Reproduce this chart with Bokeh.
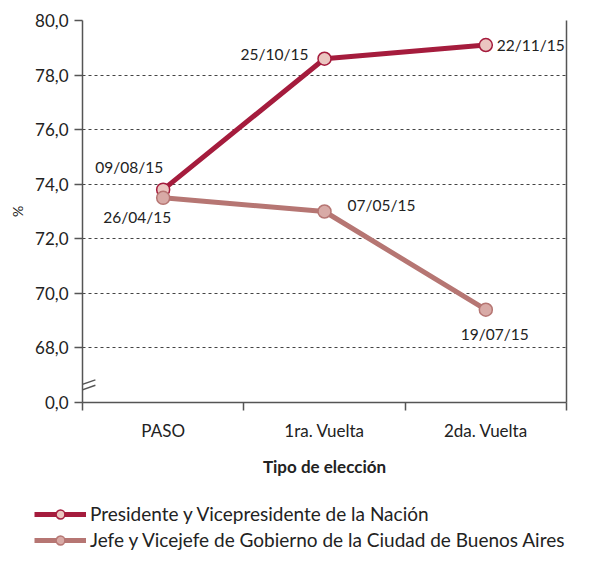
from bokeh.plotting import figure
from bokeh.models import (FixedTicker, Range1d, ColumnDataSource, Legend, LegendItem,
                          LinearAxis, Arrow)
from bokeh.layouts import column
from bokeh.core.properties import value
from bokeh.embed import file_html
from bokeh.resources import INLINE

# ---- data ----
categories = ["PASO", "1ra. Vuelta", "2da. Vuelta"]
presidente = [73.8, 78.6, 79.1]
presidente_dates = ["09/08/15", "25/10/15", "22/11/15"]
jefe = [73.5, 73.0, 69.4]
jefe_dates = ["26/04/15", "07/05/15", "19/07/15"]
y_ticks = [66, 68, 70, 72, 74, 76, 78, 80]
y_tick_labels = ["0,0", "68,0", "70,0", "72,0", "74,0", "76,0", "78,0", "80,0"]
series_names = ["Presidente y Vicepresidente de la Nación",
                "Jefe y Vicejefe de Gobierno de la Ciudad de Buenos Aires"]

FONT = "Lato"
AX = "#555555"
TXT = "#222222"
C1, F1 = "#A51C3D", "#EBC6C1"
C2, F2 = "#B67673", "#D8AAA6"

W = 579
H1 = 496
H2 = 55

xs = [i + 0.5 for i in range(len(categories))]

p = figure(width=W, height=H1, output_backend="svg", toolbar_location=None,
           x_range=Range1d(0, len(categories)), y_range=Range1d(y_ticks[0], y_ticks[-1]),
           min_border_left=82, min_border_right=13, min_border_top=20, min_border_bottom=H1 - 402)
p.frame_align = False
p.outline_line_color = None
p.xgrid.grid_line_color = None
p.ygrid.ticker = FixedTicker(ticks=y_ticks[1:])
p.ygrid.grid_line_color = "#444444"
p.ygrid.grid_line_dash = "3 3"
p.ygrid.grid_line_width = 1

# x axis
xa = p.xaxis[0]
xa.ticker = FixedTicker(ticks=xs, minor_ticks=list(range(len(categories) + 1)))
xa.major_label_overrides = {x: c for x, c in zip(xs, categories)}
xa.major_tick_line_color = None
xa.major_tick_out = 0
xa.major_tick_in = 0
xa.minor_tick_line_color = AX
xa.minor_tick_line_width = 1.5
xa.minor_tick_out = 8
xa.minor_tick_in = 0
xa.axis_line_color = AX
xa.axis_line_width = 1.5
xa.major_label_text_font = FONT
xa.major_label_text_font_size = "17px"
xa.major_label_text_color = TXT
xa.major_label_standoff = 9
xa.axis_label = "Tipo de elección"
xa.axis_label_text_font = FONT
xa.axis_label_text_font_style = "bold"
xa.axis_label_text_font_size = "17px"
xa.axis_label_text_color = TXT
xa.axis_label_standoff = 12

# y axis
ya = p.yaxis[0]
ya.ticker = FixedTicker(ticks=y_ticks)
ya.major_label_overrides = {t: l for t, l in zip(y_ticks, y_tick_labels)}
ya.major_tick_out = 8
ya.major_tick_in = 0
ya.major_tick_line_color = AX
ya.major_tick_line_width = 1.5
ya.minor_tick_line_color = None
ya.axis_line_color = AX
ya.axis_line_width = 1.5
ya.major_label_text_font = FONT
ya.major_label_text_font_size = "17px"
ya.major_label_text_color = TXT
ya.major_label_standoff = 6
ya.axis_label = "%"
ya.axis_label_text_font = FONT
ya.axis_label_text_font_style = "normal"
ya.axis_label_text_font_size = "14px"
ya.axis_label_text_color = TXT
ya.axis_label_standoff = 6

# right border
ra = LinearAxis(ticker=FixedTicker(ticks=[]), major_label_text_font_size="0px",
                axis_line_color=AX, axis_line_width=1.5,
                major_tick_line_color=None, minor_tick_line_color=None)
p.add_layout(ra, "right")

# axis break marks
for yy in (66.3, 66.5):
    p.add_layout(Arrow(end=None, x_start=-0.08, y_start=yy, x_end=0.08, y_end=yy + 0.33,
                       line_color=AX, line_width=1.5, level="overlay"))

src1 = ColumnDataSource(dict(x=xs, y=presidente, t=presidente_dates))
src2 = ColumnDataSource(dict(x=xs, y=jefe, t=jefe_dates))

LW, MS = 5, 13
p.line("x", "y", source=src1, line_color=C1, line_width=LW)
p.scatter("x", "y", source=src1, size=MS, fill_color=F1, line_color=C1, line_width=1.5)
p.line("x", "y", source=src2, line_color=C2, line_width=LW)
p.scatter("x", "y", source=src2, size=MS, fill_color=F2, line_color=C2, line_width=1.5)

# date labels (per point placement)
place1 = [("right", "bottom", 0, -14), ("right", "middle", -16, -5), ("left", "middle", 11, 0)]
place2 = [("right", "top", 8, 10), ("left", "middle", 23, -7), ("center", "middle", 9, 24)]
for src, place in ((src1, place1), (src2, place2)):
    d = src.data
    for i in range(len(d["x"])):
        a, b, ox, oy = place[i]
        p.text(x=[d["x"][i]], y=[d["y"][i]], text=[d["t"][i]], text_align=a, text_baseline=b,
               x_offset=ox, y_offset=oy, text_font=value(FONT), text_font_size="15.5px",
               text_color=TXT)

# legend strip below the chart (same series, drawn out of view; only the legend shows)
q = figure(width=W, height=H2, output_backend="svg", toolbar_location=None,
           x_range=Range1d(0, 1), y_range=Range1d(0, 1),
           x_axis_location=None, y_axis_location=None,
           min_border_left=0, min_border_right=0, min_border_top=0, min_border_bottom=0)
q.frame_align = False
q.outline_line_color = None
q.xgrid.grid_line_color = None
q.ygrid.grid_line_color = None
ql1 = q.line("x", "y", source=src1, line_color=C1, line_width=LW)
qm1 = q.scatter("x", "y", source=src1, size=MS, fill_color=F1, line_color=C1, line_width=1.5)
ql2 = q.line("x", "y", source=src2, line_color=C2, line_width=LW)
qm2 = q.scatter("x", "y", source=src2, size=MS, fill_color=F2, line_color=C2, line_width=1.5)

legend = Legend(items=[LegendItem(label=series_names[0], renderers=[ql1, qm1]),
                       LegendItem(label=series_names[1], renderers=[ql2, qm2])],
                location=(34, 0), orientation="vertical",
                glyph_width=52, glyph_height=22, label_standoff=4, spacing=3,
                padding=0, margin=0, border_line_color=None, background_fill_alpha=0,
                label_text_font=FONT, label_text_font_size="19px", label_text_color=TXT)
q.add_layout(legend, "center")

layout = column(p, q, spacing=0)
open("out.html", "w").write(file_html(layout, INLINE))
